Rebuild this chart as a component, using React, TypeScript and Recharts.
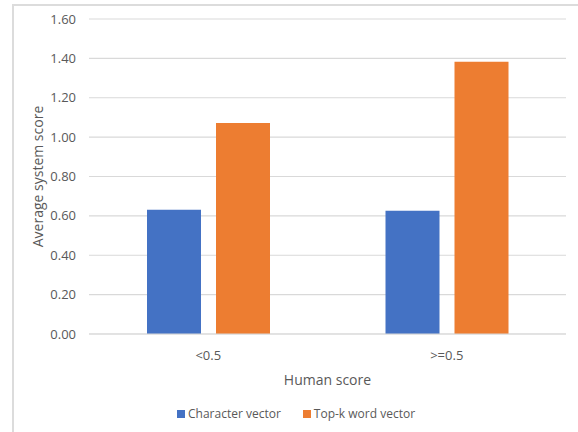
import { BarChart, Bar, XAxis, YAxis, CartesianGrid, Label } from 'recharts';

const categories = ['<0.5', '>=0.5'];
const characterVector = [0.631, 0.626];
const topKWordVector = [1.072, 1.383];
const yTicks = [0, 0.2, 0.4, 0.6, 0.8, 1.0, 1.2, 1.4, 1.6];

const seriesNames = ['Character vector', 'Top-k word vector'];
const seriesColors = ['#4472C4', '#ED7D31'];

const data = categories.map((c, i) => ({
  category: c,
  character: characterVector[i],
  topk: topKWordVector[i],
}));

const font = '"Open Sans", sans-serif';
const tickStyle = { fill: '#595959', fontSize: 13, fontFamily: font };

export default function App() {
  return (
    <div style={{ position: 'absolute', left: 0, top: 0, width: 578, height: 432, background: '#fff', fontFamily: font }}>
      {/* frame of the chart area (top + left edges only visible) */}
      <div style={{ position: 'absolute', left: 12, top: 4, right: 0, bottom: 0, borderTop: '2px solid #dcdcdc', borderLeft: '2px solid #dcdcdc' }} />
      <div style={{ position: 'absolute', left: 0, top: 0 }}>
        <BarChart width={578} height={432} data={data} margin={{ top: 19, right: 12, left: 0, bottom: 48 }} barCategoryGap={58} barGap={15}>
          <CartesianGrid vertical={false} stroke="#d9d9d9" strokeWidth={1.2} />
          <XAxis dataKey="category" height={50} axisLine={{ stroke: '#d9d9d9' }} tickLine={false} tickSize={0} tickMargin={17} tick={tickStyle}>
            <Label value="Human score" position="insideBottom" offset={-1} style={{ fill: '#595959', fontSize: 14, fontFamily: font }} />
          </XAxis>
          <YAxis width={89} domain={[0, 1.6]} ticks={yTicks} axisLine={false} tickLine={false} tickSize={0} tickMargin={13} tick={tickStyle} tickFormatter={v => v.toFixed(2)}>
            <Label value="Average system score" angle={-90} position="center" dx={-6} style={{ fill: '#595959', fontSize: 14, fontFamily: font, textAnchor: 'middle' }} />
          </YAxis>
          <Bar dataKey="character" name={seriesNames[0]} fill={seriesColors[0]} isAnimationActive={false} />
          <Bar dataKey="topk" name={seriesNames[1]} fill={seriesColors[1]} isAnimationActive={false} />
        </BarChart>
      </div>
      <div style={{ position: 'absolute', left: 177, top: 405, display: 'flex', alignItems: 'center', fontSize: 12, color: '#595959', whiteSpace: 'nowrap' }}>
        {seriesNames.map((name, i) => (
          <div key={name} style={{ display: 'flex', alignItems: 'center', marginRight: 22 }}>
            <span style={{ width: 8, height: 8, background: seriesColors[i], display: 'inline-block', marginRight: 3 }} />
            <span>{name}</span>
          </div>
        ))}
      </div>
    </div>
  );
}
